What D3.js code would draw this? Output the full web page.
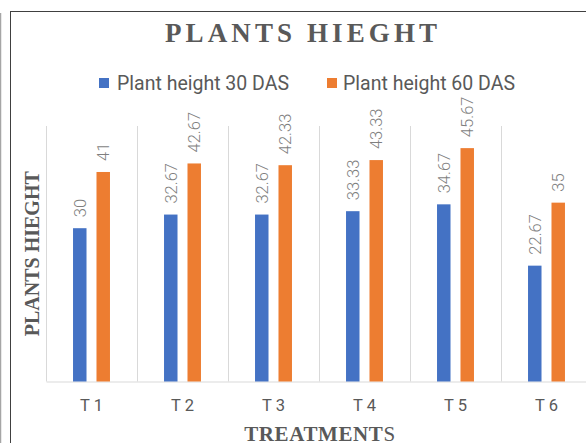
<!DOCTYPE html>
<html>
<head>
<meta charset="utf-8">
<script src="https://cdn.jsdelivr.net/npm/d3@7"></script>
<style>
  html, body { margin: 0; padding: 0; background: #fff; }
  svg { display: block; }
</style>
</head>
<body>
<svg id="chart" width="586" height="443"></svg>
<script>
// Treatments and plant heights (cm) at 30 and 60 days after sowing
const categories = ["T 1", "T 2", "T 3", "T 4", "T 5", "T 6"];
const seriesNames = ["Plant height 30 DAS", "Plant height 60 DAS"];
const height30 = [30, 32.67, 32.67, 33.33, 34.67, 22.67];
const height60 = [41, 42.67, 42.33, 43.33, 45.67, 35];
const yDomain = [0, 50];

const colors = ["#4472c4", "#ed7d31"];
const textGray = "#595959";
const labelGray = "#7f7f7f";
const gridGray = "#d9d9d9";

const rows = categories.map((c, i) => ({ cat: c, values: [height30[i], height60[i]] }));

const svg = d3.select("#chart");
svg.append("rect").attr("width", 586).attr("height", 443).attr("fill", "#fff");

// page edge line and chart frame
svg.append("line")
  .attr("x1", 0.5).attr("x2", 0.5).attr("y1", 13).attr("y2", 443)
  .attr("stroke", "#a6a6a6").attr("stroke-width", 1.5);
svg.append("rect")
  .attr("x", 10.5).attr("y", 11.5).attr("width", 640).attr("height", 500)
  .attr("fill", "none").attr("stroke", "#404040").attr("stroke-width", 1);

const plot = { left: 46, right: 592, top: 126, bottom: 381.5 };

const x = d3.scaleBand().domain(categories).range([plot.left, plot.right]).padding(0);
const xInner = d3.scaleBand().domain(d3.range(seriesNames.length))
  .range([x.bandwidth() * 0.297, x.bandwidth() * 0.703])
  .paddingInner(0.4255).paddingOuter(0);
const y = d3.scaleLinear().domain(yDomain).range([plot.bottom, plot.top]);

// vertical gridlines at category boundaries
const bounds = categories.map(c => x(c)).concat([plot.right]);
svg.append("g").selectAll("line").data(bounds).join("line")
  .attr("x1", d => Math.round(d) + 0.5).attr("x2", d => Math.round(d) + 0.5)
  .attr("y1", y(yDomain[1])).attr("y2", plot.bottom)
  .attr("stroke", gridGray).attr("stroke-width", 1);

// category axis
const xAxis = svg.append("g")
  .attr("transform", `translate(0,${plot.bottom})`)
  .call(d3.axisBottom(x).tickSize(0).tickPadding(18));
xAxis.select(".domain").attr("stroke", gridGray).attr("stroke-width", 1.2);
xAxis.selectAll("text")
  .attr("fill", textGray)
  .style("font-family", "Roboto, 'Open Sans', sans-serif")
  .style("font-size", "16.5px");

// bars
const groups = svg.append("g").selectAll("g").data(rows).join("g")
  .attr("transform", d => `translate(${x(d.cat)},0)`);

groups.selectAll("rect").data(d => d.values).join("rect")
  .attr("x", (v, i) => xInner(i))
  .attr("width", xInner.bandwidth())
  .attr("y", v => y(v))
  .attr("height", v => y(0) - y(v))
  .attr("fill", (v, i) => colors[i]);

// value labels, rotated, above each bar
groups.selectAll("text").data(d => d.values).join("text")
  .attr("transform", (v, i) =>
    `translate(${xInner(i) + xInner.bandwidth() / 2},${y(v) - 11}) rotate(-90)`)
  .attr("dy", "0.36em")
  .attr("text-anchor", "start")
  .attr("fill", labelGray)
  .style("font-family", "Roboto, 'Open Sans', sans-serif")
  .style("font-weight", 300)
  .style("font-size", "16.5px")
  .text(v => v);

// title
svg.append("text")
  .attr("x", 165).attr("y", 42)
  .attr("textLength", 272).attr("lengthAdjust", "spacing")
  .attr("fill", textGray)
  .style("font-family", "'Liberation Serif', 'DejaVu Serif', serif")
  .style("font-weight", "bold")
  .style("font-size", "27px")
  .text("PLANTS HIEGHT");

// legend
const legend = svg.append("g");
const legendItems = [{ x: 99, tx: 117 }, { x: 327, tx: 343 }];
legendItems.forEach((it, i) => {
  legend.append("rect")
    .attr("x", it.x).attr("y", 78).attr("width", 10).attr("height", 10)
    .attr("fill", colors[i]);
  legend.append("text")
    .attr("x", it.tx).attr("y", 89.5)
    .attr("fill", textGray)
    .style("font-family", "Roboto, 'Open Sans', sans-serif")
    .style("font-size", "19.5px")
    .text(seriesNames[i]);
});

// axis titles
svg.append("text")
  .attr("transform", `translate(38.5,${(plot.top + plot.bottom) / 2}) rotate(-90)`)
  .attr("text-anchor", "middle")
  .attr("fill", textGray)
  .style("font-family", "'Liberation Serif', 'DejaVu Serif', serif")
  .style("font-weight", "bold")
  .style("font-size", "20px")
  .text("PLANTS HIEGHT");

const xTitle = svg.append("text")
  .attr("x", (plot.left + plot.right) / 2 + 1).attr("y", 441)
  .attr("text-anchor", "middle")
  .attr("fill", textGray)
  .style("font-family", "'Liberation Serif', 'DejaVu Serif', serif")
  .style("font-size", "21px")
  .style("letter-spacing", "0.6px");
xTitle.append("tspan").style("font-weight", "bold").text("TREATMENT");
xTitle.append("tspan").style("font-weight", "normal").text("S");
</script>
</body>
</html>
